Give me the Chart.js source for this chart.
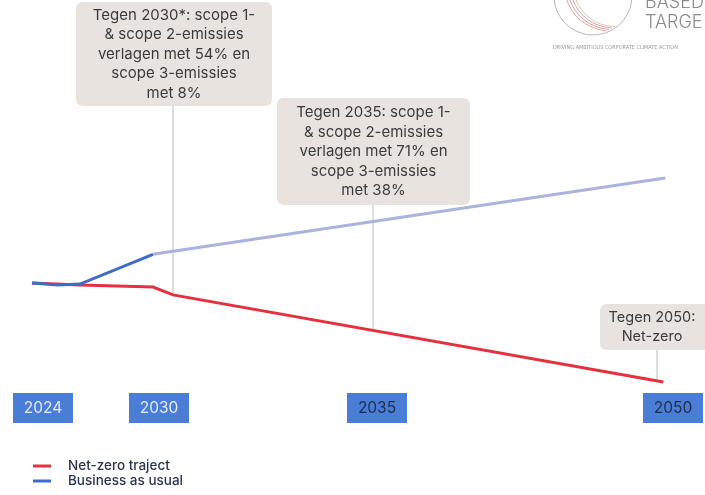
<!DOCTYPE html>
<html>
<head>
<meta charset="utf-8">
<script src="https://cdn.jsdelivr.net/npm/chart.js@4/dist/chart.umd.min.js"></script>
<style>
  html,body{margin:0;padding:0;background:#ffffff;}
  #wrap{width:705px;height:495px;position:relative;}
</style>
</head>
<body>
<div id="wrap"><canvas id="c" width="705" height="495"></canvas></div>
<script>
// ---------------- DATA ----------------
// x = year (schematic timeline), y = emissions index (2024 = 100, net-zero = 0)
const seriesNames = ['Net-zero traject', 'Business as usual'];
const netZeroYears  = [2023.43, 2025.91, 2029.69, 2030.32, 2049.51];
const netZeroValues = [100, 98, 96, 88, 0];
const bauYears  = [2023.43, 2024.78, 2025.91, 2029.69, 2049.61];
const bauValues = [100, 98, 99, 129, 206];
const milestoneYears = [2024, 2030, 2035, 2050];
const milestoneLabels = ['2024', '2030', '2035', '2050'];
const calloutYears = [2030.32, 2034.91, 2049.19];
const calloutTexts = [
  ['Tegen 2030*: scope 1-', '& scope 2-emissies', 'verlagen met 54% en', 'scope 3-emissies', 'met 8%'],
  ['Tegen 2035: scope 1-', '& scope 2-emissies', 'verlagen met 71% en', 'scope 3-emissies', 'met 38%'],
  ['Tegen 2050:', 'Net-zero']
];

// ---------------- LAYOUT / STYLE ----------------
const timelineStops = [43/705, 159/705, 377/705, 673/705]; // relative position of milestone years
const calloutBoxes = [
  {l: 76, t: 2, r: 272, b: 106, fs: 15},
  {l: 277, t: 98, r: 470, b: 205, fs: 15},
  {l: 600, t: 304, r: 712, b: 350, fs: 14.5}
];
const FONT = 'Inter, "Noto Sans", sans-serif';
const RED = '#e5313f', BLUE = '#3e6cc8', LIGHTBLUE = '#a9b3dc';

// Piecewise-linear timeline scale (schematic year axis)
class TimelineScale extends Chart.LinearScale {
  _frac(v) {
    const ys = milestoneYears, fs = timelineStops;
    let i = 0;
    if (v >= ys[ys.length - 1]) i = ys.length - 2;
    else { while (i < ys.length - 2 && v > ys[i + 1]) i++; }
    return fs[i] + (v - ys[i]) / (ys[i + 1] - ys[i]) * (fs[i + 1] - fs[i]);
  }
  getPixelForValue(v) { return this.left + this._frac(v) * this.width; }
  getValueForPixel(p) {
    const f = (p - this.left) / this.width, ys = milestoneYears, fs = timelineStops;
    let i = 0;
    while (i < fs.length - 2 && f > fs[i + 1]) i++;
    return ys[i] + (f - fs[i]) / (fs[i + 1] - fs[i]) * (ys[i + 1] - ys[i]);
  }
}
TimelineScale.id = 'timeline';
TimelineScale.defaults = Chart.LinearScale.defaults;
Chart.register(TimelineScale);

function rr(ctx, x, y, w, h, r) {
  ctx.beginPath();
  ctx.moveTo(x + r, y);
  ctx.lineTo(x + w - r, y); ctx.quadraticCurveTo(x + w, y, x + w, y + r);
  ctx.lineTo(x + w, y + h - r); ctx.quadraticCurveTo(x + w, y + h, x + w - r, y + h);
  ctx.lineTo(x + r, y + h); ctx.quadraticCurveTo(x, y + h, x, y + h - r);
  ctx.lineTo(x, y + r); ctx.quadraticCurveTo(x, y, x + r, y);
  ctx.closePath();
}

function yOnDataset(chart, dsIndex, px) {
  const pts = chart.getDatasetMeta(dsIndex).data;
  for (let i = 0; i < pts.length - 1; i++) {
    const a = pts[i], b = pts[i + 1];
    if (px >= a.x && px <= b.x) return a.y + (px - a.x) / (b.x - a.x) * (b.y - a.y);
  }
  return pts[pts.length - 1].y;
}

const decor = {
  id: 'decor',
  beforeDatasetsDraw(chart) {
    const ctx = chart.ctx, xs = chart.scales.x;
    ctx.save();
    // logo (partial, top right)
    ctx.strokeStyle = '#b8b8b8'; ctx.lineWidth = 1;
    ctx.beginPath(); ctx.arc(593, -4, 39, 0.03 * Math.PI, 0.98 * Math.PI); ctx.stroke();
    const arcCols = ['#e9a58a', '#d9a0a8', '#c9a7b8', '#e7c3a5'];
    arcCols.forEach((c, i) => {
      ctx.strokeStyle = c; ctx.beginPath();
      ctx.moveTo(566 + i * 3, -2);
      ctx.quadraticCurveTo(575 + i * 4, 26, 606 + i * 3, 31 - i * 1.5);
      ctx.stroke();
    });
    ctx.fillStyle = '#8c8c8c';
    ctx.font = '300 18px ' + FONT;
    ctx.textBaseline = 'alphabetic'; ctx.textAlign = 'left';
    ctx.fillText('BASED', 645, 8);
    ctx.fillText('TARGE', 645, 28);
    ctx.font = '5.5px "DejaVu Sans Condensed", sans-serif';
    ctx.fillStyle = '#9a9a9a';
    ctx.fillText('DRIVING AMBITIOUS CORPORATE CLIMATE ACTION', 553, 49);

    // callout connectors
    ctx.strokeStyle = '#d6d3d0'; ctx.lineWidth = 1.5;
    calloutYears.forEach((yr, i) => {
      const px = xs.getPixelForValue(yr);
      const py = yOnDataset(chart, 0, px);
      ctx.beginPath(); ctx.moveTo(px, calloutBoxes[i].b); ctx.lineTo(px, py); ctx.stroke();
    });
    ctx.restore();
  },
  afterDatasetsDraw(chart) {
    const ctx = chart.ctx, xs = chart.scales.x;
    ctx.save();
    // callout boxes
    calloutTexts.forEach((lines, i) => {
      const b = calloutBoxes[i];
      ctx.fillStyle = '#e8e3de';
      rr(ctx, b.l, b.t, b.r - b.l, b.b - b.t, 7); ctx.fill();
      ctx.fillStyle = '#3b3b3b';
      ctx.font = b.fs + 'px ' + FONT;
      ctx.textAlign = 'center'; ctx.textBaseline = 'middle';
      const cx = i === 2 ? 652 : (b.l + b.r) / 2;
      const lh = i === 2 ? 19 : 19.5;
      const h = (lines.length - 1) * lh;
      const cy = (b.t + b.b) / 2;
      lines.forEach((t, j) => ctx.fillText(t, cx, cy - h / 2 + j * lh));
    });
    // milestone year boxes
    milestoneYears.forEach((yr, i) => {
      const px = xs.getPixelForValue(yr);
      ctx.fillStyle = '#4a7ed6';
      ctx.fillRect(px - 30, 393, 60, 30);
      ctx.fillStyle = i < 2 ? '#e2eaf7' : '#1f2b4d';
      ctx.font = '15.5px ' + FONT;
      ctx.textAlign = 'center'; ctx.textBaseline = 'middle';
      ctx.fillText(milestoneLabels[i], px, 408.5);
    });
    // legend
    chart.data.datasets.forEach((ds, i) => {
      const y = 466 + i * 15;
      ctx.strokeStyle = ds.borderColor; ctx.lineWidth = 3;
      ctx.beginPath(); ctx.moveTo(33, y); ctx.lineTo(51, y); ctx.stroke();
      ctx.fillStyle = '#2c3550';
      ctx.font = '500 13.5px ' + FONT;
      ctx.textAlign = 'left'; ctx.textBaseline = 'middle';
      ctx.fillText(ds.label, 68, y);
    });
    ctx.restore();
  }
};

new Chart(document.getElementById('c'), {
  type: 'line',
  data: {
    datasets: [
      {
        label: seriesNames[0],
        data: netZeroYears.map((x, i) => ({x, y: netZeroValues[i]})),
        borderColor: RED, borderWidth: 3, pointRadius: 0, tension: 0, fill: false, order: 1
      },
      {
        label: seriesNames[1],
        data: bauYears.map((x, i) => ({x, y: bauValues[i]})),
        borderColor: BLUE, borderWidth: 3, pointRadius: 0, tension: 0, fill: false, order: 0,
        segment: { borderColor: c => (c.p0.parsed.x >= 2029.5 ? LIGHTBLUE : BLUE) }
      }
    ]
  },
  options: {
    responsive: false, animation: false, maintainAspectRatio: false,
    layout: { padding: 0 },
    scales: {
      x: { type: 'timeline', min: 2023, max: 2051, display: false },
      y: { type: 'linear', min: -114.1, max: 385.9, display: false }
    },
    plugins: { legend: { display: false }, tooltip: { enabled: false } }
  },
  plugins: [decor]
});
</script>
</body>
</html>
